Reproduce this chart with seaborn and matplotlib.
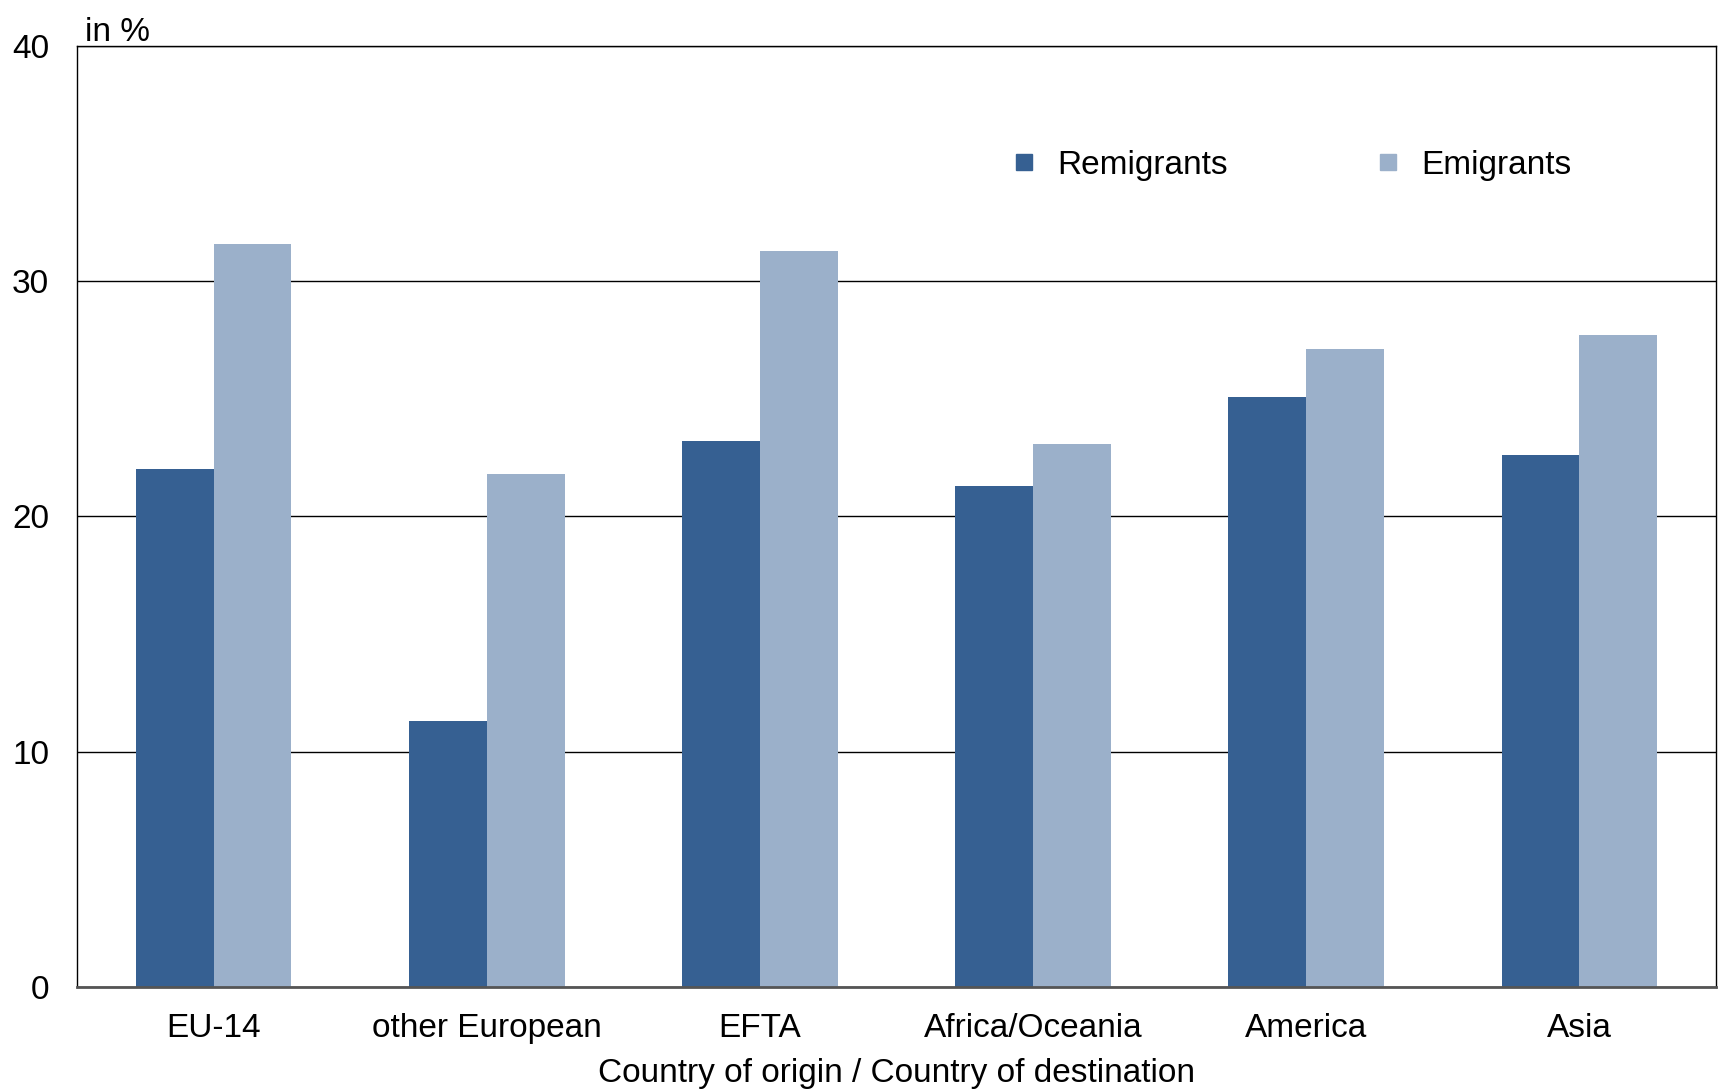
import matplotlib
matplotlib.use("Agg")
import matplotlib.pyplot as plt
from matplotlib.lines import Line2D
import seaborn as sns
import pandas as pd

categories = ["EU-14", "other European", "EFTA", "Africa/Oceania", "America", "Asia"]
remigrants = [22.0, 11.3, 23.2, 21.3, 25.1, 22.6]
emigrants = [31.6, 21.8, 31.3, 23.1, 27.1, 27.7]
series_names = ["Remigrants", "Emigrants"]
colors = ["#366092", "#9BB0CA"]
y_ticks = [0, 10, 20, 30, 40]

df = pd.DataFrame({
    "Region": categories * 2,
    "Value": remigrants + emigrants,
    "Series": [series_names[0]] * len(categories) + [series_names[1]] * len(categories),
})

sns.set_theme(style="white")
plt.rcParams["font.family"] = ["Liberation Sans", "DejaVu Sans"]
plt.rcParams["text.color"] = "black"
plt.rcParams["axes.labelcolor"] = "black"
plt.rcParams["xtick.color"] = "black"
plt.rcParams["ytick.color"] = "black"

FS = 24

fig = plt.figure(figsize=(17.27, 10.90), dpi=100)
ax = fig.add_axes([0.0446, 0.0945, 0.949, 0.8633])

ax.set_axisbelow(True)
ax.yaxis.grid(True, color="black", linewidth=1.0)
ax.xaxis.grid(False)

sns.barplot(data=df, x="Region", y="Value", hue="Series", order=categories,
            hue_order=series_names, palette=colors, width=0.57, saturation=1,
            edgecolor="none", linewidth=0, ax=ax, legend=False)

ax.set_xlim(-0.5, len(categories) - 0.5)
ax.set_ylim(0, 40)
ax.set_yticks(y_ticks)
ax.set_yticklabels([str(t) for t in y_ticks], fontsize=FS)
ax.tick_params(axis="y", length=0, pad=20)
ax.tick_params(axis="x", length=0, pad=19, labelsize=FS)
for s in ["top", "right", "left"]:
    ax.spines[s].set_visible(True)
    ax.spines[s].set_color("black")
    ax.spines[s].set_linewidth(1.0)
ax.spines["bottom"].set_color("#555555")
ax.spines["bottom"].set_linewidth(2.0)

ax.set_ylabel("")
ax.set_xlabel("Country of origin / Country of destination", fontsize=FS, labelpad=10)
ax.text(0.005, 1.0055, "in %", transform=ax.transAxes, fontsize=FS, ha="left", va="baseline")

handles = [Line2D([0], [0], marker="s", linestyle="none", markersize=12,
                  markerfacecolor=c, markeredgecolor=c) for c in colors]
ax.legend(handles, series_names, loc="center", bbox_to_anchor=(0.7395, 0.8735),
          ncol=2, frameon=False, fontsize=FS, columnspacing=4.3, handletextpad=0.5,
          handlelength=1.0)

fig.savefig("out.png", dpi=100)
